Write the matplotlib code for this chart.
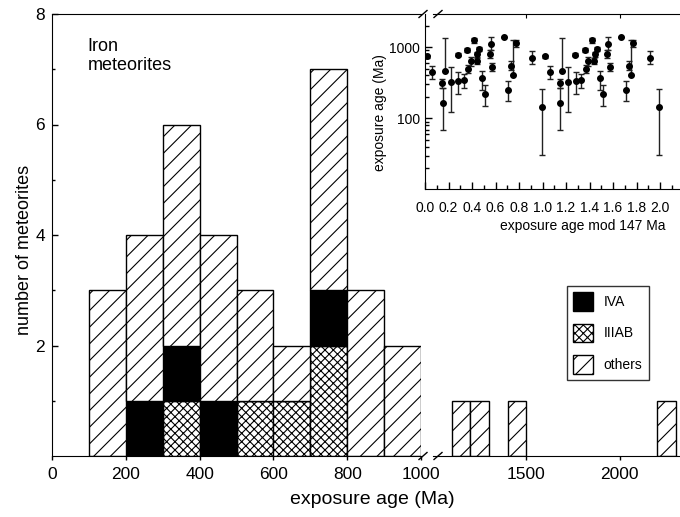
import numpy as np
import matplotlib
matplotlib.use('Agg')
import matplotlib.pyplot as plt
from matplotlib.patches import Patch
from matplotlib.ticker import (LogLocator, NullFormatter, MultipleLocator,
                               FixedLocator, FormatStrFormatter)

plt.rcParams['font.family'] = ['Liberation Sans', 'DejaVu Sans']
plt.rcParams['hatch.linewidth'] = 0.8

# histogram bins (left edge, Ma) and counts per group
bin_left = [100, 200, 300, 400, 500, 600, 700, 800, 900, 1100, 1200, 1400, 2200]
n_iiiab = [0, 0, 1, 0, 1, 1, 2, 0, 0, 0, 0, 0, 0]
n_iva = [0, 1, 1, 1, 0, 0, 1, 0, 0, 0, 0, 0, 0]
n_other = [3, 3, 4, 3, 2, 1, 4, 3, 2, 1, 1, 1, 1]
bin_width = 100

# inset: exposure age mod 147 Ma (fraction of period), age and error range
mod_x = [0.021, 0.060, 0.146, 0.153, 0.169, 0.219, 0.279, 0.281, 0.328, 0.360,
         0.369, 0.389, 0.417, 0.440, 0.445, 0.460, 0.488, 0.511, 0.551, 0.559,
         0.573, 0.672, 0.709, 0.734, 0.751, 0.773, 0.913, 0.993]
age = [738, 451, 313, 167, 461, 319, 780, 337, 341, 916,
       492, 629, 1237, 640, 787, 937, 363, 222, 805, 1101,
       525, 1380, 252, 547, 405, 1137, 710, 145]
age_min = [700, 357, 269, 68, 461, 125, 745, 222, 263, 860,
           433, 535, 1150, 580, 720, 870, 252, 151, 710, 916,
           455, 1380, 173, 470, 405, 1000, 580, 31]
age_max = [780, 535, 357, 267, 1337, 525, 815, 447, 413, 975,
           565, 714, 1320, 700, 860, 1010, 455, 297, 910, 1380,
           597, 1380, 330, 629, 1265, 1265, 868, 258]

W, H = 680, 517
fig = plt.figure(figsize=(W / 100, H / 100), dpi=100)

ax1 = fig.add_axes([52 / W, 61 / H, 369 / W, 442 / H])
ax2 = fig.add_axes([433 / W, 61 / H, 247 / W, 442 / H], sharey=ax1)
ax1.set_xlim(0, 1000)
ax2.set_xlim(1000, 1000 + 247 / 0.1868)
ax1.set_ylim(0, 8)

left = np.array(bin_left)
iiiab = np.array(n_iiiab)
iva = np.array(n_iva)
other = np.array(n_other)

for ax, mask in ((ax1, left < 1000), (ax2, left >= 1000)):
    ax.bar(left[mask], iiiab[mask], width=bin_width, align='edge',
           color='white', edgecolor='black', hatch='xxxx', lw=1)
    ax.bar(left[mask], iva[mask], bottom=iiiab[mask], width=bin_width,
           align='edge', color='black', edgecolor='black', lw=1)
    ax.bar(left[mask], other[mask], bottom=(iiiab + iva)[mask], width=bin_width,
           align='edge', color='white', edgecolor='black', hatch='//', lw=1)

ax1.spines['right'].set_visible(False)
ax2.spines['left'].set_visible(False)
ax2.spines['right'].set_visible(False)

ax1.set_xticks([0, 200, 400, 600, 800, 1000])
ax2.set_xticks([1500, 2000])
for ax in (ax1, ax2):
    ax.tick_params(axis='x', direction='out', length=3, width=1, labelsize=12.5, pad=5)
ax1.set_yticks([2, 4, 6, 8])
ax1.yaxis.set_minor_locator(FixedLocator([1, 3, 5, 7]))
ax1.tick_params(axis='y', which='major', direction='in', length=4.5, width=1,
                labelsize=12.5, pad=5)
ax1.tick_params(axis='y', which='minor', direction='in', length=2.5, width=1)
ax2.tick_params(axis='y', which='both', left=False, labelleft=False)

top2 = ax2.secondary_xaxis('top')
top2.set_xticks([1500, 2000])
top2.tick_params(direction='in', length=3, labeltop=False)
top2.spines['top'].set_visible(False)

ax1.set_ylabel('number of meteorites', fontsize=13)
ax1.yaxis.set_label_coords(-0.052, 0.466)
fig.text(372 / W, (H - 500) / H, 'exposure age (Ma)', fontsize=14,
         ha='center', va='center')

ax1.text(0.097, 0.945, 'Iron\nmeteorites', transform=ax1.transAxes,
         fontsize=13, va='top', ha='left', linespacing=1.15)

# axis break marks
for ax, xc, w in ((ax1, (423 - 52) / 369, 369), (ax2, (438 - 433) / 247, 247)):
    dx = 4 / w
    dy = 3.5 / 442
    for yc in (0, 1):
        ax.plot([xc - dx, xc + dx], [yc - dy, yc + dy], color='black', lw=1,
                transform=ax.transAxes, clip_on=False)

legend_handles = [
    Patch(facecolor='black', edgecolor='black', label='IVA'),
    Patch(facecolor='white', edgecolor='black', hatch='xxxx', label='IIIAB'),
    Patch(facecolor='white', edgecolor='black', hatch='//', label='others'),
]
leg = ax2.legend(handles=legend_handles, loc='upper left',
                 bbox_to_anchor=(567 / W, (H - 286) / H),
                 bbox_transform=fig.transFigure, fontsize=10,
                 frameon=True, fancybox=False, edgecolor='black',
                 handlelength=1.45, handleheight=1.65, handletextpad=0.75,
                 labelspacing=0.95, borderpad=0.45, borderaxespad=0)
leg.get_frame().set_linewidth(1)

# inset
axi = fig.add_axes([425 / W, (H - 189) / H, 255 / W, 175 / H])
axi.patch.set_alpha(0)
xs = np.concatenate([mod_x, np.array(mod_x) + 1])
ys = np.concatenate([age, age])
lo = np.concatenate([np.array(age) - np.array(age_min)] * 2)
hi = np.concatenate([np.array(age_max) - np.array(age)] * 2)
axi.errorbar(xs, ys, yerr=[lo, hi], fmt='o', color='black', ms=4,
             capsize=2, elinewidth=1, capthick=1, ecolor='#222222')
axi.set_yscale('log')
axi.set_ylim(10.3, 2900)
axi.set_xlim(0, 2.17)
axi.spines['top'].set_visible(False)
axi.spines['right'].set_visible(False)
axi.xaxis.set_major_locator(MultipleLocator(0.2))
axi.xaxis.set_minor_locator(MultipleLocator(0.1))
axi.xaxis.set_major_formatter(FormatStrFormatter('%.1f'))
axi.yaxis.set_major_locator(FixedLocator([100, 1000]))
axi.yaxis.set_major_formatter(FormatStrFormatter('%d'))
axi.yaxis.set_minor_locator(LogLocator(base=10, subs=np.arange(2, 10)))
axi.yaxis.set_minor_formatter(NullFormatter())
axi.tick_params(which='major', direction='in', length=4.8, width=1,
                labelsize=10, pad=9)
axi.tick_params(which='minor', direction='in', length=3, width=1)
axi.tick_params(axis='y', which='major', pad=3.5)
axi.set_xlabel('exposure age mod 147 Ma', fontsize=10)
axi.xaxis.set_label_coords(0.62, -0.17)
axi.set_ylabel('exposure age (Ma)', fontsize=10)
axi.yaxis.set_label_coords(-0.15, 0.434)

fig.savefig('out.png', dpi=100)
